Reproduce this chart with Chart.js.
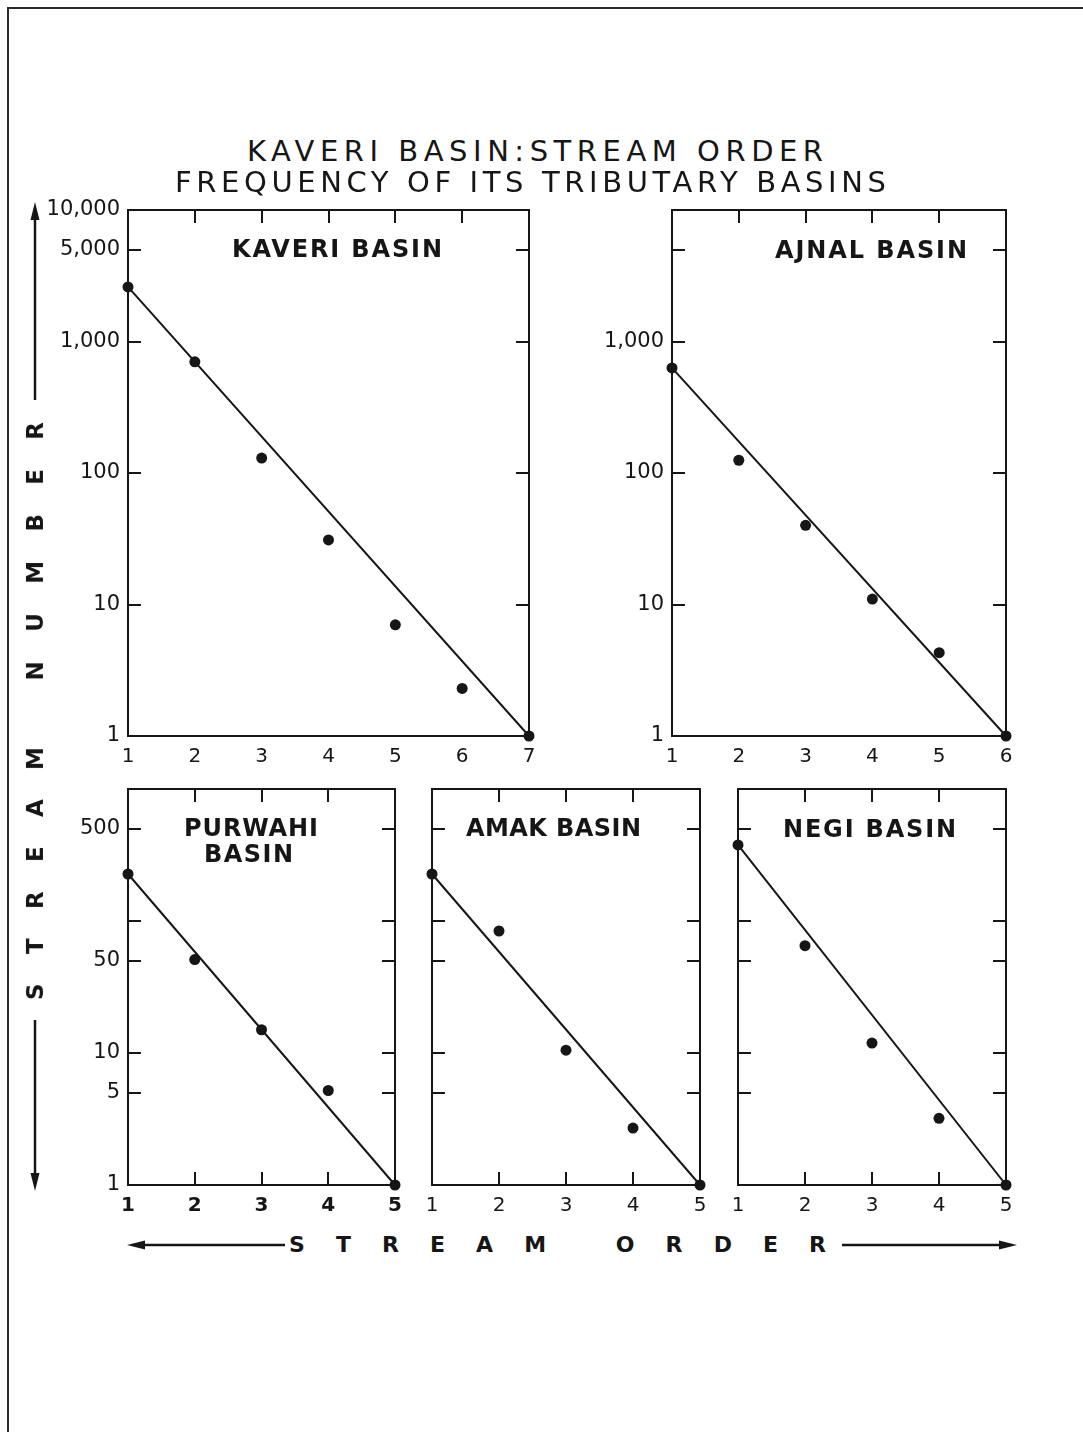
<!DOCTYPE html>
<html>
<head>
<meta charset="utf-8">
<title>Kaveri Basin: stream order frequency</title>
<script src="https://cdn.jsdelivr.net/npm/chart.js@4.4.1/dist/chart.umd.min.js"></script>
<style>
  html, body { margin: 0; padding: 0; background: #ffffff; }
  #page { position: relative; width: 1083px; height: 1432px; overflow: hidden; background: #ffffff; }
  .txt { position: absolute; white-space: pre; color: #161616; font-family: "DejaVu Sans", sans-serif; line-height: 1; }
  .panel { position: absolute; }
  .panel canvas { display: block; }
  svg.deco { position: absolute; left: 0; top: 0; }
</style>
</head>
<body>
<div id="page">
  <svg class="deco" width="1083" height="1432" viewBox="0 0 1083 1432">
    <!-- sheet border -->
    <line x1="7" y1="8" x2="1083" y2="8" stroke="#2b2b2b" stroke-width="2"/>
    <line x1="8" y1="8" x2="8" y2="1432" stroke="#2b2b2b" stroke-width="2"/>
    <!-- stream number arrows -->
    <line x1="35" y1="400" x2="35" y2="214" stroke="#161616" stroke-width="2.5"/>
    <polygon points="35,202 30.5,220 39.5,220" fill="#161616"/>
    <line x1="35" y1="1020" x2="35" y2="1178" stroke="#161616" stroke-width="2.5"/>
    <polygon points="35,1191 30.5,1173 39.5,1173" fill="#161616"/>
    <!-- stream order arrows -->
    <line x1="285" y1="1245" x2="140" y2="1245" stroke="#161616" stroke-width="2.5"/>
    <polygon points="127,1245 145,1240.5 145,1249.5" fill="#161616"/>
    <line x1="842" y1="1245" x2="1004" y2="1245" stroke="#161616" stroke-width="2.5"/>
    <polygon points="1017,1245 999,1240.5 999,1249.5" fill="#161616"/>
  </svg>
</div>
<script>
// ---- Stream order (x) and number of streams (y) for each basin ----
const KAVERI_ORDER = [1, 2, 3, 4, 5, 6, 7];
const KAVERI_COUNT = [2600, 700, 130, 31, 7, 2.3, 1];
const KAVERI_FIT_ORDER = [1, 7];
const KAVERI_FIT = [2600, 1];

const AJNAL_ORDER = [1, 2, 3, 4, 5, 6];
const AJNAL_COUNT = [630, 125, 40, 11, 4.3, 1];
const AJNAL_FIT_ORDER = [1, 6];
const AJNAL_FIT = [630, 1];

const PURWAHI_ORDER = [1, 2, 3, 4, 5];
const PURWAHI_COUNT = [227, 51, 15, 5.2, 1];
const PURWAHI_FIT_ORDER = [1, 5];
const PURWAHI_FIT = [227, 1];

const AMAK_ORDER = [1, 2, 3, 4, 5];
const AMAK_COUNT = [227, 84, 10.5, 2.7, 1];
const AMAK_FIT_ORDER = [1, 5];
const AMAK_FIT = [227, 1];

const NEGI_ORDER = [1, 2, 3, 4, 5];
const NEGI_COUNT = [377, 65, 11.9, 3.2, 1];
const NEGI_FIT_ORDER = [1, 5];
const NEGI_FIT = [377, 1];

// ---- Log-axis tick values and which of them carry a label ----
const UPPER_Y_TICKS = [1, 10, 100, 1000, 5000, 10000];
const LOWER_Y_TICKS = [1, 5, 10, 50, 100, 500, 1000];
const KAVERI_Y_LABELS = [1, 10, 100, 1000, 5000, 10000];
const AJNAL_Y_LABELS = [1, 10, 100, 1000];
const PURWAHI_Y_LABELS = [1, 5, 10, 50, 500];
const NO_Y_LABELS = [];

const TITLE_LINES = ["KAVERI BASIN:STREAM ORDER", "FREQUENCY OF ITS TRIBUTARY BASINS"];

const INK = "#161616";
const TICK_LEN = 13;
const AX_W = 100, AX_H = 40, PAD_T = 20, PAD_R = 20;

const page = document.getElementById("page");

// Panel frame with inward tick marks on every side
const frameTicks = {
  id: "frameTicks",
  beforeDatasetsDraw(chart, args, opts) {
    const { ctx, chartArea: a, scales: { x, y } } = chart;
    ctx.save();
    ctx.strokeStyle = INK;
    ctx.lineWidth = 2;
    ctx.strokeRect(a.left, a.top, a.right - a.left, a.bottom - a.top);
    ctx.beginPath();
    y.ticks.forEach(t => {
      if (t.value <= y.min || t.value >= y.max) return;
      const py = Math.round(y.getPixelForValue(t.value));
      ctx.moveTo(a.left, py); ctx.lineTo(a.left + TICK_LEN, py);
      ctx.moveTo(a.right, py); ctx.lineTo(a.right - TICK_LEN, py);
    });
    x.ticks.forEach(t => {
      if (t.value <= x.min || t.value >= x.max) return;
      const px = Math.round(x.getPixelForValue(t.value));
      ctx.moveTo(px, a.top); ctx.lineTo(px, a.top + TICK_LEN);
      if (opts.bottomTicks) { ctx.moveTo(px, a.bottom); ctx.lineTo(px, a.bottom - TICK_LEN); }
    });
    ctx.stroke();
    ctx.restore();
  }
};

function makePanel(p) {
  const W = p.box.r - p.box.l, H = p.box.b - p.box.t;
  const cw = W + AX_W + PAD_R, ch = H + PAD_T + AX_H;
  const wrap = document.createElement("div");
  wrap.className = "panel";
  wrap.style.left = (p.box.l - AX_W) + "px";
  wrap.style.top = (p.box.t - PAD_T) + "px";
  wrap.style.width = cw + "px";
  wrap.style.height = ch + "px";
  const cv = document.createElement("canvas");
  cv.width = cw; cv.height = ch;
  wrap.appendChild(cv);
  page.appendChild(wrap);

  new Chart(cv, {
    type: "scatter",
    data: {
      datasets: [
        {
          data: p.order.map((o, i) => ({ x: o, y: p.count[i] })),
          pointRadius: 5.5, pointBackgroundColor: INK, pointBorderWidth: 0,
          showLine: false, clip: false, order: 0
        },
        {
          data: p.fitOrder.map((o, i) => ({ x: o, y: p.fit[i] })),
          showLine: true, borderColor: INK, borderWidth: 2, pointRadius: 0,
          clip: false, order: 1
        }
      ]
    },
    options: {
      responsive: false, animation: false, events: [],
      layout: { padding: { top: PAD_T, right: PAD_R, left: 0, bottom: 0 } },
      plugins: {
        legend: { display: false }, tooltip: { enabled: false },
        frameTicks: { bottomTicks: p.bottomTicks }
      },
      scales: {
        x: {
          type: "linear", min: p.order[0], max: p.order[p.order.length - 1],
          afterBuildTicks(s) { s.ticks = p.order.map(v => ({ value: v })); },
          ticks: {
            autoSkip: false, maxRotation: 0, padding: 9, color: INK,
            font: { family: "DejaVu Sans", size: 20, weight: p.xBold ? "bold" : "normal" }
          },
          grid: { display: false, drawTicks: false }, border: { display: false },
          afterFit(s) { s.height = AX_H; s.paddingLeft = 0; s.paddingRight = 0; }
        },
        y: {
          type: "logarithmic", min: 1, max: p.yMax,
          afterBuildTicks(s) { s.ticks = p.yTicks.map(v => ({ value: v })); },
          ticks: {
            autoSkip: false, padding: 8, color: INK,
            font: { family: "DejaVu Sans", size: 21 },
            callback: v => p.yLabels.includes(v) ? v.toLocaleString("en-US") : ""
          },
          grid: { display: false, drawTicks: false }, border: { display: false },
          afterFit(s) { s.width = AX_W; s.paddingTop = 0; s.paddingBottom = 0; }
        }
      }
    },
    plugins: [frameTicks]
  });
}

const panels = [
  { box: { l: 128, r: 529, t: 210, b: 736 }, yMax: 10000, yTicks: UPPER_Y_TICKS, yLabels: KAVERI_Y_LABELS,
    order: KAVERI_ORDER, count: KAVERI_COUNT, fitOrder: KAVERI_FIT_ORDER, fit: KAVERI_FIT, bottomTicks: false, xBold: false },
  { box: { l: 672, r: 1006, t: 210, b: 736 }, yMax: 10000, yTicks: UPPER_Y_TICKS, yLabels: AJNAL_Y_LABELS,
    order: AJNAL_ORDER, count: AJNAL_COUNT, fitOrder: AJNAL_FIT_ORDER, fit: AJNAL_FIT, bottomTicks: false, xBold: false },
  { box: { l: 128, r: 395, t: 789, b: 1185 }, yMax: 1000, yTicks: LOWER_Y_TICKS, yLabels: PURWAHI_Y_LABELS,
    order: PURWAHI_ORDER, count: PURWAHI_COUNT, fitOrder: PURWAHI_FIT_ORDER, fit: PURWAHI_FIT, bottomTicks: true, xBold: true },
  { box: { l: 432, r: 700, t: 789, b: 1185 }, yMax: 1000, yTicks: LOWER_Y_TICKS, yLabels: NO_Y_LABELS,
    order: AMAK_ORDER, count: AMAK_COUNT, fitOrder: AMAK_FIT_ORDER, fit: AMAK_FIT, bottomTicks: true, xBold: false },
  { box: { l: 738, r: 1006, t: 789, b: 1185 }, yMax: 1000, yTicks: LOWER_Y_TICKS, yLabels: NO_Y_LABELS,
    order: NEGI_ORDER, count: NEGI_COUNT, fitOrder: NEGI_FIT_ORDER, fit: NEGI_FIT, bottomTicks: true, xBold: false }
];
panels.forEach(makePanel);

// ---- Lettering: spread each string so its ink spans x0..x1 ----
function letter(text, x0, x1, cy, size, weight, rotate) {
  const el = document.createElement("div");
  el.className = "txt";
  el.textContent = text;
  el.style.fontSize = size + "px";
  el.style.fontWeight = weight;
  page.appendChild(el);
  const w = el.getBoundingClientRect().width;
  const target = x1 - x0;
  const ls = (target - w) / Math.max(1, text.length - 1);
  el.style.letterSpacing = ls + "px";
  const h = size;
  if (!rotate) {
    el.style.left = x0 + "px";
    el.style.top = (cy - 0.48 * h) + "px";
  } else {
    // x0..x1 here is the vertical extent (top..bottom), cy is the centre x
    const midY = (x0 + x1) / 2;
    el.style.left = (cy - target / 2) + "px";
    el.style.top = (midY - 0.48 * h) + "px";
    el.style.transformOrigin = (target / 2) + "px " + (0.48 * h) + "px";
    el.style.transform = "rotate(-90deg)";
  }
  return el;
}

letter(TITLE_LINES[0], 247, 823, 151, 29, "normal");
letter(TITLE_LINES[1], 175, 886, 182, 29, "normal");

letter("KAVERI BASIN", 232, 442, 249, 24, "bold");
letter("AJNAL BASIN", 775, 967, 250, 24, "bold");
letter("PURWAHI", 184, 318, 828, 24, "bold");
letter("BASIN", 204, 293, 854, 24, "bold");
letter("AMAK BASIN", 466, 641, 828, 24, "bold");
letter("NEGI BASIN", 783, 956, 829, 24, "bold");

letter("STREAM ORDER", 289, 826, 1245, 22, "bold");
letter("STREAM NUMBER", 422, 1000, 35, 23, "bold", true);
</script>
</body>
</html>
